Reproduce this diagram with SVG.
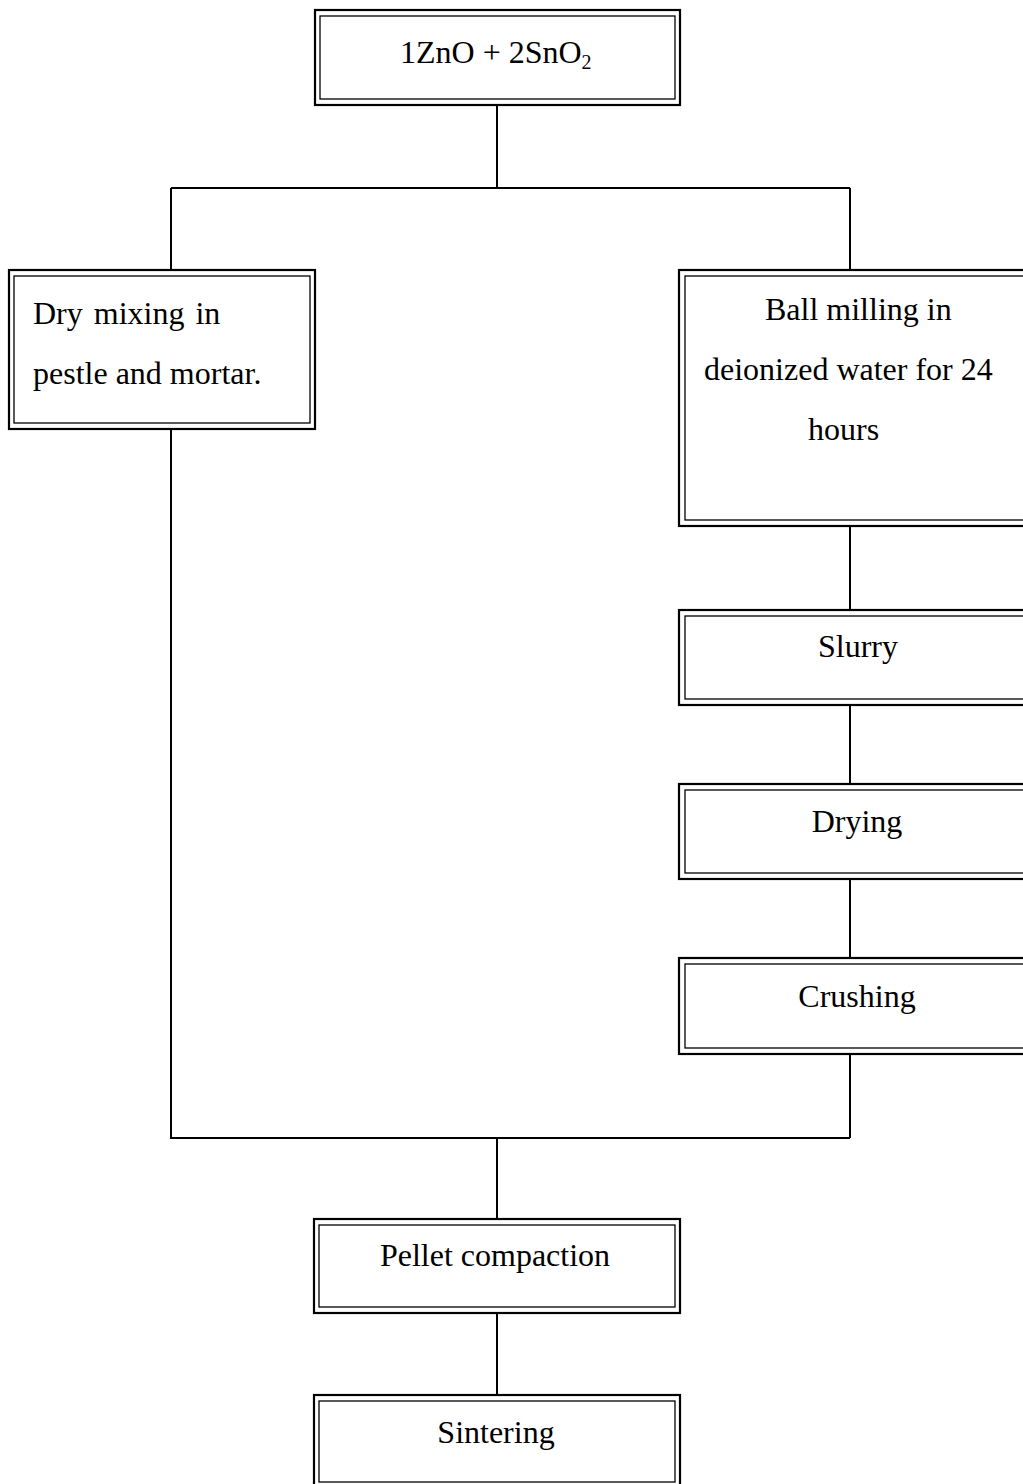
<svg xmlns="http://www.w3.org/2000/svg" width="1023" height="1484" viewBox="0 0 1023 1484">
<style>
.o{fill:none;stroke:#000;stroke-width:2.2}
.i{fill:none;stroke:#000;stroke-width:1.3}
.c{fill:none;stroke:#000;stroke-width:2}
text{font-family:"Liberation Serif","Times New Roman",serif;font-size:32px;fill:#000}
.m{text-anchor:middle}
</style>
<rect width="1023" height="1484" fill="#fff"/>
<g id="connectors">
<path class="c" d="M497 106V188M171 188H850M171 188V270M850 188V270"/>
<path class="c" d="M850 526V610M850 705V784M850 879V958M850 1054V1138"/>
<path class="c" d="M171 429V1138H850M497 1138V1219M497 1313V1395"/>
</g>
<g id="n-start">
<rect class="o" x="315" y="10" width="365" height="95"/>
<rect class="i" x="320" y="16" width="355" height="83"/>
<text x="400" y="63">1ZnO + 2SnO<tspan font-size="20" dy="6">2</tspan></text>
</g>
<g id="n-dry">
<rect class="o" x="9" y="270" width="306" height="159"/>
<rect class="i" x="14" y="276" width="296" height="147"/>
<text x="33" y="324" word-spacing="3">Dry mixing in</text>
<text x="33" y="384">pestle and mortar.</text>
</g>
<g id="n-ball">
<rect class="o" x="679" y="270" width="360" height="256"/>
<rect class="i" x="685" y="276" width="350" height="244"/>
<text x="765" y="320">Ball milling in</text>
<text x="704" y="380">deionized water for 24</text>
<text x="808" y="440">hours</text>
</g>
<g id="n-slurry">
<rect class="o" x="679" y="610" width="360" height="95"/>
<rect class="i" x="685" y="616" width="350" height="83"/>
<text class="m" x="858" y="657">Slurry</text>
</g>
<g id="n-drying">
<rect class="o" x="679" y="784" width="360" height="95"/>
<rect class="i" x="685" y="790" width="350" height="83"/>
<text class="m" x="857" y="832">Drying</text>
</g>
<g id="n-crushing">
<rect class="o" x="679" y="958" width="360" height="96"/>
<rect class="i" x="685" y="964" width="350" height="84"/>
<text class="m" x="857" y="1007">Crushing</text>
</g>
<g id="n-pellet">
<rect class="o" x="314" y="1219" width="366" height="94"/>
<rect class="i" x="319" y="1225" width="356" height="82"/>
<text class="m" x="495" y="1266">Pellet compaction</text>
</g>
<g id="n-sinter">
<rect class="o" x="314" y="1395" width="366" height="95"/>
<rect class="i" x="319" y="1401" width="356" height="81"/>
<text class="m" x="496" y="1443">Sintering</text>
</g>
</svg>
